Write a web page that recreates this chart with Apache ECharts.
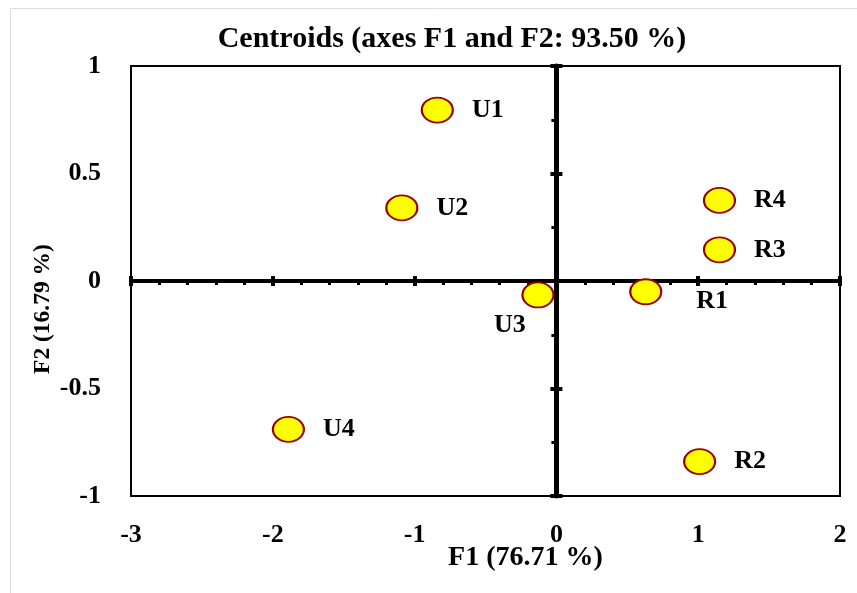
<!DOCTYPE html>
<html>
<head>
<meta charset="utf-8">
<script src="https://cdn.jsdelivr.net/npm/echarts@6/dist/echarts.min.js"></script>
<style>
  html, body { margin: 0; padding: 0; background: #fff; }
  #main { width: 857px; height: 593px; }
</style>
</head>
<body>
<div id="main"></div>
<script>
// centroid labels and coordinates (F1, F2)
var names = ['U1', 'U2', 'U3', 'U4', 'R1', 'R2', 'R3', 'R4'];
var f1 = [-0.84, -1.09, -0.13, -1.89, 0.63, 1.01, 1.15, 1.15];
var f2 = [0.795, 0.34, -0.065, -0.69, -0.05, -0.84, 0.145, 0.375];

var xTicks = [-3, -2, -1, 0, 1, 2];
var yTicks = [-1, -0.5, 0, 0.5, 1];

var fontFam = '"Liberation Serif", "DejaVu Serif", serif';

// where the label of each point sits
var labelPos = {
  U3: { position: 'bottom', distance: 4, offset: [-28, 0] },
  R1: { position: 'right', distance: 18, offset: [16, 10] }
};

var points = [];
for (var i = 0; i < names.length; i++) {
  var p = { name: names[i], value: [f1[i], f2[i]] };
  if (labelPos[names[i]]) p.label = labelPos[names[i]];
  points.push(p);
}

var chart = echarts.init(document.getElementById('main'));

function axisX(extra) {
  var base = {
    type: 'value', min: xTicks[0], max: xTicks[xTicks.length - 1], interval: 1,
    splitLine: { show: false }
  };
  return Object.assign(base, extra);
}
function axisY(extra) {
  var base = {
    type: 'value', min: yTicks[0], max: yTicks[yTicks.length - 1], interval: 0.5,
    splitLine: { show: false }
  };
  return Object.assign(base, extra);
}

var option = {
  backgroundColor: '#fff',
  animation: false,
  title: {
    text: 'Centroids (axes F1 and F2: 93.50 %)',
    left: 447, top: 19, textAlign: 'center',
    textStyle: { fontFamily: fontFam, fontWeight: 'bold', fontSize: 30, color: '#000' }
  },
  graphic: [{
    type: 'rect', z: -10, silent: true,
    shape: { x: 10.5, y: 8.5, width: 900, height: 700 },
    style: { fill: 'none', stroke: '#dcdcdc', lineWidth: 1 }
  }],
  grid: {
    left: 131, right: 17, top: 66, bottom: 97,
    show: true, borderColor: '#000', borderWidth: 2, backgroundColor: 'transparent',
    outerBoundsMode: 'none'
  },
  xAxis: [
    // labels along the bottom
    axisX({
      position: 'bottom',
      axisLine: { show: false, onZero: false },
      axisTick: { show: false },
      axisLabel: { margin: 26, fontFamily: fontFam, fontWeight: 'bold', fontSize: 26, color: '#000' },
      name: 'F1 (76.71 %)', nameLocation: 'middle', nameGap: 48, nameMoveOverlap: false,
      nameTextStyle: { fontFamily: fontFam, fontWeight: 'bold', fontSize: 28, color: '#000', padding: [0, 0, 0, 80] }
    }),
    // thick axis through zero
    axisX({
      position: 'bottom',
      axisLine: { show: true, onZero: true, onZeroAxisIndex: 0, lineStyle: { color: '#000', width: 4 } },
      axisTick: { show: true, length: 5, lineStyle: { color: '#000', width: 4 } },
      minorTick: { show: true, splitNumber: 5, length: 4, lineStyle: { color: '#000', width: 3 } },
      axisLabel: { show: false }
    }),
    // upper half of the major ticks
    axisX({
      position: 'bottom',
      axisLine: { show: true, onZero: true, onZeroAxisIndex: 0, lineStyle: { color: 'rgba(0,0,0,0)', width: 1 } },
      axisTick: { show: true, inside: true, length: 5, lineStyle: { color: '#000', width: 4 } },
      axisLabel: { show: false }
    })
  ],
  yAxis: [
    axisY({
      position: 'left',
      axisLine: { show: false, onZero: false },
      axisTick: { show: false },
      axisLabel: { margin: 30, fontFamily: fontFam, fontWeight: 'bold', fontSize: 26, color: '#000' },
      name: 'F2 (16.79 %)', nameLocation: 'middle', nameGap: 76, nameMoveOverlap: false,
      nameTextStyle: { fontFamily: fontFam, fontWeight: 'bold', fontSize: 23.5, color: '#000', padding: [0, 56, 0, 0] }
    }),
    axisY({
      position: 'left',
      axisLine: { show: true, onZero: true, onZeroAxisIndex: 0, lineStyle: { color: '#000', width: 5 } },
      axisTick: { show: true, length: 6, lineStyle: { color: '#000', width: 4 } },
      minorTick: { show: true, splitNumber: 2, length: 5, lineStyle: { color: '#000', width: 3 } },
      axisLabel: { show: false }
    }),
    axisY({
      position: 'left',
      axisLine: { show: true, onZero: true, onZeroAxisIndex: 0, lineStyle: { color: 'rgba(0,0,0,0)', width: 1 } },
      axisTick: { show: true, inside: true, length: 6, lineStyle: { color: '#000', width: 4 } },
      axisLabel: { show: false }
    })
  ],
  series: [{
    type: 'scatter',
    xAxisIndex: 0, yAxisIndex: 0,
    symbol: 'circle',
    symbolSize: [31, 25],
    z: 10,
    itemStyle: { color: '#FFFF00', borderColor: '#990000', borderWidth: 2, opacity: 1 },
    label: {
      show: true, position: 'right', distance: 18,
      formatter: '{b}',
      fontFamily: fontFam, fontWeight: 'bold', fontSize: 26, color: '#000'
    },
    emphasis: { disabled: true },
    data: points
  }]
};

chart.setOption(option);
</script>
</body>
</html>
